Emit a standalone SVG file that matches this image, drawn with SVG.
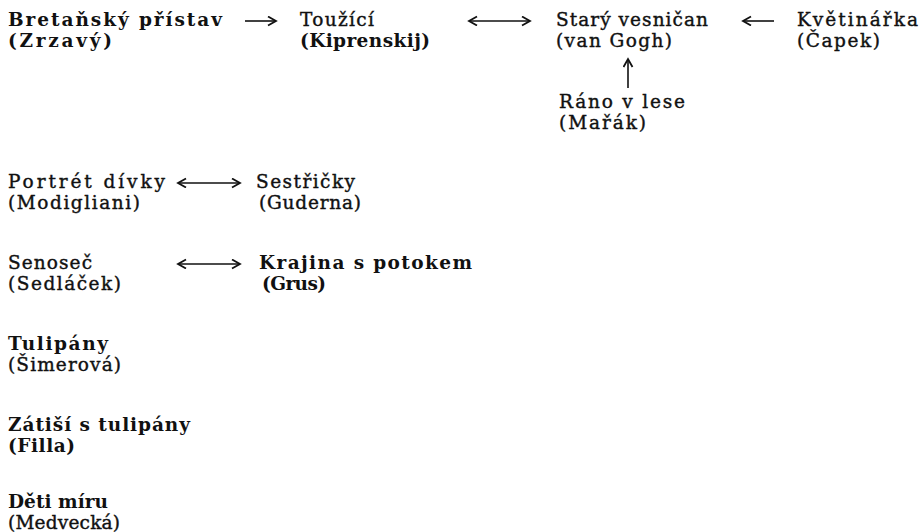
<svg xmlns="http://www.w3.org/2000/svg" width="923" height="532" viewBox="0 0 923 532">
<style>
text{font-family:"DejaVu Serif","Liberation Serif",serif;font-size:18.5px;fill:#111;}
.b{font-weight:bold;}
.m{stroke:#111;stroke-width:0.4;}
.c{stroke:#111;stroke-width:1.6;fill:none;}
</style>
<defs>
<marker id="ah" markerWidth="12" markerHeight="12" refX="9" refY="5" orient="auto-start-reverse" markerUnits="userSpaceOnUse">
<path d="M1,0.5 L9,5 L1,9.5" fill="none" stroke="#111" stroke-width="1.8"/>
</marker>
</defs>
<rect width="923" height="532" fill="#fff"/>
<g id="connectors">
<line class="c" x1="245" y1="21" x2="276" y2="21" marker-end="url(#ah)"/>
<line class="c" x1="469" y1="21" x2="530" y2="21" marker-start="url(#ah)" marker-end="url(#ah)"/>
<line class="c" x1="774" y1="21" x2="743" y2="21" marker-end="url(#ah)"/>
<line class="c" x1="628" y1="88" x2="628" y2="59" marker-end="url(#ah)"/>
<line class="c" x1="178" y1="183" x2="240" y2="183" marker-start="url(#ah)" marker-end="url(#ah)"/>
<line class="c" x1="178" y1="264" x2="240" y2="264" marker-start="url(#ah)" marker-end="url(#ah)"/>
</g>
<g id="bretansky">
<text class="b" x="8" y="26" textLength="214">Bretaňský přístav</text>
<text class="b" x="8" y="47" textLength="104">(Zrzavý)</text>
</g>
<g id="touzici">
<text class="m" x="300" y="26" textLength="74">Toužící</text>
<text class="b" x="300" y="47" textLength="130">(Kiprenskij)</text>
</g>
<g id="stary-vesnican">
<text class="m" x="556" y="26" textLength="152">Starý vesničan</text>
<text class="m" x="556" y="47" textLength="116">(van Gogh)</text>
</g>
<g id="kvetinarka">
<text class="m" x="797" y="26" textLength="121">Květinářka</text>
<text class="m" x="797" y="47" textLength="83">(Čapek)</text>
</g>
<g id="rano-v-lese">
<text class="m" x="559" y="108" textLength="126">Ráno v lese</text>
<text class="m" x="559" y="129" textLength="87">(Mařák)</text>
</g>
<g id="portret-divky">
<text class="m" x="8" y="188" textLength="157">Portrét dívky</text>
<text class="m" x="8" y="209" textLength="132">(Modigliani)</text>
</g>
<g id="sestricky">
<text class="m" x="256" y="188" textLength="99">Sestřičky</text>
<text class="m" x="259" y="209" textLength="102">(Guderna)</text>
</g>
<g id="senosec">
<text class="m" x="8" y="269" textLength="84">Senoseč</text>
<text class="m" x="8" y="290" textLength="113">(Sedláček)</text>
</g>
<g id="krajina">
<text class="b" x="259" y="269" textLength="213">Krajina s potokem</text>
<text class="b" x="262" y="290" textLength="64">(Grus)</text>
</g>
<g id="tulipany">
<text class="b" x="8" y="350" textLength="100">Tulipány</text>
<text class="m" x="8" y="371" textLength="113">(Šimerová)</text>
</g>
<g id="zatisi">
<text class="b" x="8" y="431" textLength="182">Zátiší s tulipány</text>
<text class="b" x="8" y="452" textLength="67">(Filla)</text>
</g>
<g id="deti-miru">
<text class="b" x="8" y="508" textLength="100">Děti míru</text>
<text class="m" x="8" y="529" textLength="112">(Medvecká)</text>
</g>
</svg>
